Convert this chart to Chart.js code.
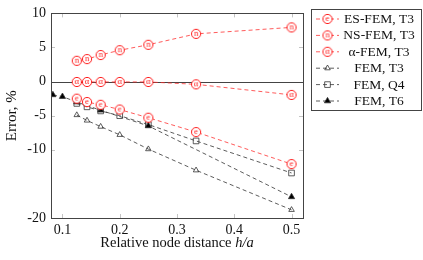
<!DOCTYPE html>
<html>
<head>
<meta charset="utf-8">
<script src="https://cdn.jsdelivr.net/npm/chart.js@4/dist/chart.umd.min.js"></script>
<style>
  html, body { margin: 0; padding: 0; background: #fff; }
  canvas { display: block; }
</style>
</head>
<body>
<canvas id="chart" width="423" height="260"></canvas>
<script>
// data
const hRatio = [0.125, 0.1429, 0.1667, 0.2, 0.25, 0.3333, 0.5];
const hRatioT6 = [0.0833, 0.1, 0.125, 0.1667, 0.25, 0.5];

const esFem = [-2.5, -3.0, -3.4, -4.1, -5.3, -7.4, -12.1];
const nsFem = [3.05, 3.3, 3.9, 4.6, 5.4, 7.0, 7.95];
const alphaFem = [-0.05, -0.05, -0.05, -0.05, -0.05, -0.4, -1.95];
const femT3 = [-4.9, -5.7, -6.6, -7.8, -9.9, -13.0, -18.8];
const femQ4 = [-3.2, -3.7, -4.3, -5.0, -6.3, -8.7, -13.4];
const femT6 = [-1.95, -2.2, -3.0, -4.2, -6.5, -16.9];

const seriesLabels = ['ES-FEM, T3', 'NS-FEM, T3', '\u03b1-FEM, T3', 'FEM, T3', 'FEM, Q4', 'FEM, T6'];
const xTicks = [0.1, 0.2, 0.3, 0.4, 0.5];
const yTicks = [10, 5, 0, -5, -10, -20];

const FONT = "'Liberation Serif', serif";
const RED = '#ff1a1a';
const DARK = '#333';

// circle with a letter inside, used as point style
function letterMark(ch) {
  const c = document.createElement('canvas');
  c.width = 12; c.height = 12;
  const g = c.getContext('2d');
  g.beginPath();
  g.arc(6, 6, 4.6, 0, Math.PI * 2);
  g.fillStyle = '#fff';
  g.fill();
  g.lineWidth = 1;
  g.strokeStyle = RED;
  g.stroke();
  g.fillStyle = RED;
  g.font = '8.5px ' + FONT;
  g.textAlign = 'center';
  g.textBaseline = 'middle';
  g.fillText(ch, 6, 5.6);
  return c;
}

const marks = [letterMark('e'), letterMark('n'), letterMark('\u03b1')];

function pts(xs, ys) {
  return xs.map((x, i) => ({x: x, y: ys[i]}));
}

function redSet(label, ys, mark) {
  return {
    label: label,
    data: pts(hRatio, ys),
    borderColor: 'rgba(255,40,40,0.85)',
    borderWidth: 0.9,
    borderDash: [4, 3],
    pointStyle: mark,
    pointRadius: 5,
  };
}

function darkSet(label, xs, ys, style, fill, r) {
  return {
    label: label,
    data: pts(xs, ys),
    borderColor: DARK,
    borderWidth: 0.8,
    borderDash: [4, 3],
    pointStyle: style,
    pointRadius: r,
    pointBorderColor: DARK,
    pointBorderWidth: 0.8,
    pointBackgroundColor: fill,
  };
}

// frame, inward ticks, zero line, axis titles and boxed legend
const framePlugin = {
  id: 'frame',
  beforeDatasetsDraw(chart) {
    const {ctx, chartArea: a, scales} = chart;
    ctx.save();
    ctx.strokeStyle = '#b5b5b5';
    ctx.lineWidth = 0.8;
    xTicks.forEach(v => {
      const px = Math.round(scales.x.getPixelForValue(v)) + 0.5;
      ctx.beginPath();
      ctx.moveTo(px, a.bottom); ctx.lineTo(px, a.bottom - 4);
      ctx.moveTo(px, a.top); ctx.lineTo(px, a.top + 4);
      ctx.stroke();
    });
    yTicks.forEach(v => {
      const py = Math.round(scales.y.getPixelForValue(v)) + 0.5;
      ctx.beginPath();
      ctx.moveTo(a.left, py); ctx.lineTo(a.left + 4, py);
      ctx.moveTo(a.right, py); ctx.lineTo(a.right - 4, py);
      ctx.stroke();
    });
    const y0 = Math.round(scales.y.getPixelForValue(0)) + 0.5;
    ctx.strokeStyle = '#444';
    ctx.lineWidth = 1;
    ctx.beginPath();
    ctx.moveTo(a.left, y0); ctx.lineTo(a.right, y0);
    ctx.stroke();
    ctx.restore();
  },
  afterDraw(chart) {
    const {ctx, chartArea: a} = chart;
    ctx.save();
    ctx.strokeStyle = '#444';
    ctx.lineWidth = 1;
    ctx.strokeRect(Math.round(a.left) + 0.5, Math.round(a.top) + 0.5,
      Math.round(a.right - a.left), Math.round(a.bottom - a.top));

    // axis titles
    ctx.fillStyle = '#111';
    ctx.textBaseline = 'middle';
    const t1 = 'Relative node distance ';
    const t2 = 'h/a';
    ctx.font = '14.5px ' + FONT;
    const w1 = ctx.measureText(t1).width;
    ctx.font = 'italic 14.5px ' + FONT;
    const w2 = ctx.measureText(t2).width;
    const tx = (a.left + a.right) / 2 - (w1 + w2) / 2;
    ctx.textAlign = 'left';
    ctx.font = '14.5px ' + FONT;
    ctx.fillText(t1, tx, 243);
    ctx.font = 'italic 14.5px ' + FONT;
    ctx.fillText(t2, tx + w1, 243);

    ctx.save();
    ctx.translate(12, (a.top + a.bottom) / 2);
    ctx.rotate(-Math.PI / 2);
    ctx.textAlign = 'center';
    ctx.font = '15px ' + FONT;
    ctx.fillText('Error, %', 0, 0);
    ctx.restore();

    // legend
    const bx = 311.5, by = 9.5, bw = 110, bh = 101;
    ctx.fillStyle = '#fff';
    ctx.fillRect(bx, by, bw, bh);
    ctx.strokeStyle = '#444';
    ctx.strokeRect(bx, by, bw, bh);
    chart.data.datasets.forEach((ds, i) => {
      const ry = 19 + i * 16.4;
      ctx.save();
      ctx.strokeStyle = ds.borderColor;
      ctx.lineWidth = ds.borderWidth;
      ctx.setLineDash([4, 3]);
      ctx.beginPath();
      ctx.moveTo(316, ry); ctx.lineTo(339, ry);
      ctx.stroke();
      ctx.restore();
      ctx.save();
      ctx.strokeStyle = DARK;
      ctx.fillStyle = ds.pointBackgroundColor || '#fff';
      ctx.lineWidth = 0.8;
      Chart.helpers.drawPoint(ctx, {
        pointStyle: ds.pointStyle,
        radius: ds.pointRadius,
        borderWidth: 0.8,
      }, 327.5, ry);
      ctx.restore();
      ctx.fillStyle = '#111';
      ctx.font = '13.5px ' + FONT;
      ctx.textAlign = 'center';
      ctx.fillText(ds.label, 379, ry + 0.5);
    });
    ctx.restore();
  }
};

new Chart(document.getElementById('chart'), {
  type: 'line',
  data: {
    datasets: [
      redSet(seriesLabels[0], esFem, marks[0]),
      redSet(seriesLabels[1], nsFem, marks[1]),
      redSet(seriesLabels[2], alphaFem, marks[2]),
      darkSet(seriesLabels[3], hRatio, femT3, 'triangle', 'rgba(255,255,255,0)', 3.2),
      darkSet(seriesLabels[4], hRatio, femQ4, 'rect', 'rgba(255,255,255,0)', 4),
      darkSet(seriesLabels[5], hRatioT6, femT6, 'triangle', '#000', 3.6),
    ]
  },
  options: {
    responsive: false,
    animation: false,
    layout: { padding: { top: 8, right: 120, left: 0, bottom: 0 } },
    plugins: { legend: { display: false }, tooltip: { enabled: false } },
    scales: {
      x: {
        type: 'linear',
        min: 0.08,
        max: 0.52,
        afterBuildTicks: s => { s.ticks = xTicks.map(v => ({value: v})); },
        afterFit: s => { s.height = 42; },
        grid: { display: false, drawTicks: false },
        border: { display: false },
        ticks: {
          padding: 4,
          color: '#111',
          font: { family: FONT, size: 14 },
          callback: v => v.toFixed(1),
        },
      },
      y: {
        type: 'linear',
        min: -20,
        max: 10,
        afterBuildTicks: s => { s.ticks = yTicks.map(v => ({value: v})); },
        afterFit: s => { s.width = 51; },
        grid: { display: false, drawTicks: false },
        border: { display: false },
        ticks: {
          padding: 5,
          color: '#111',
          font: { family: FONT, size: 14 },
        },
      },
    },
  },
  plugins: [framePlugin],
});
</script>
</body>
</html>
